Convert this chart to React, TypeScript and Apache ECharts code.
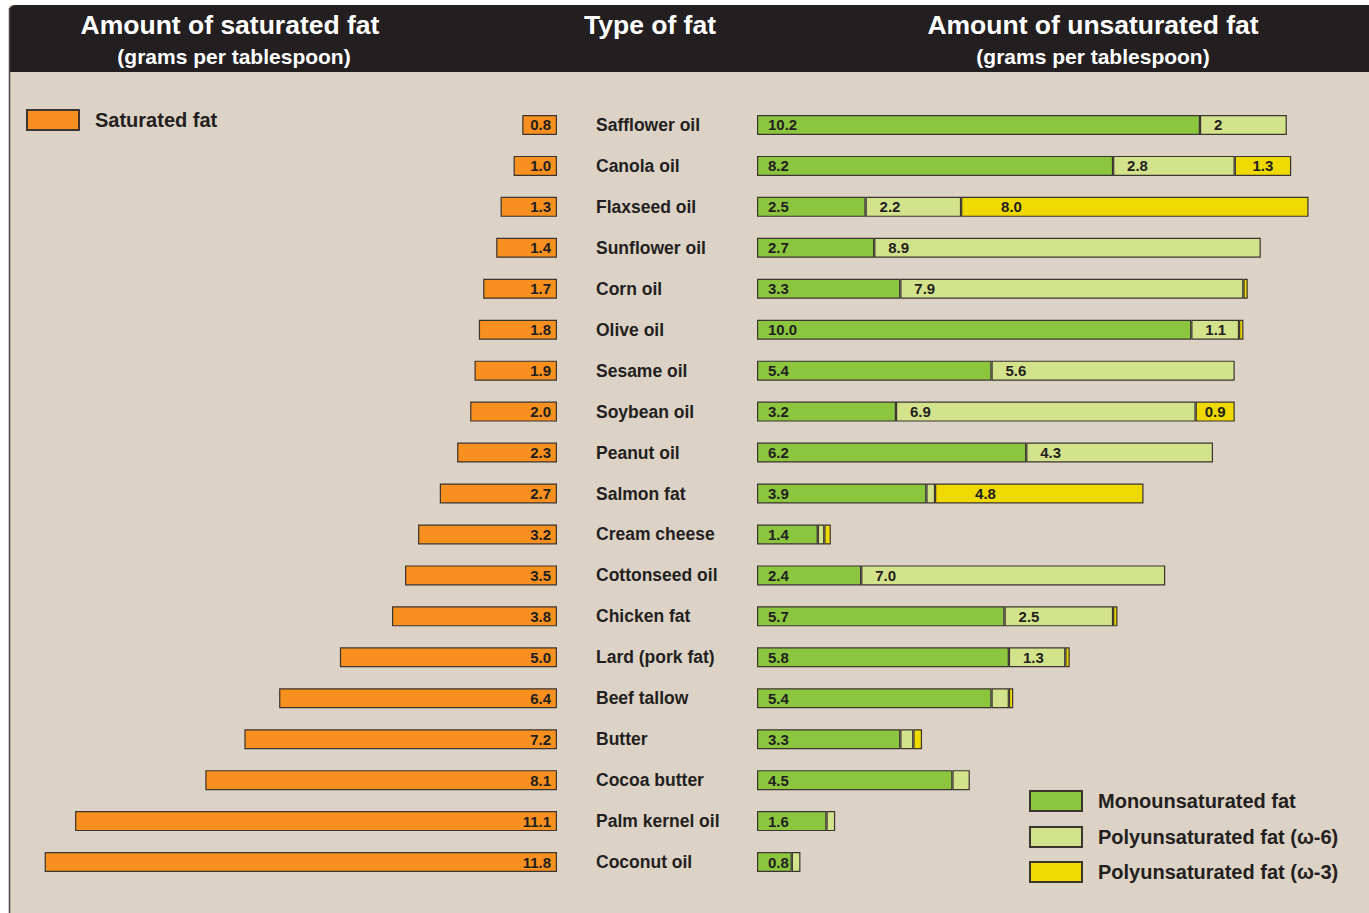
import React, { useEffect, useRef } from "react";
import * as echarts from "echarts";

const categories = [
  "Safflower oil", "Canola oil", "Flaxseed oil", "Sunflower oil", "Corn oil",
  "Olive oil", "Sesame oil", "Soybean oil", "Peanut oil", "Salmon fat",
  "Cream cheese", "Cottonseed oil", "Chicken fat", "Lard (pork fat)",
  "Beef tallow", "Butter", "Cocoa butter", "Palm kernel oil", "Coconut oil",
];
const saturated = [0.8, 1.0, 1.3, 1.4, 1.7, 1.8, 1.9, 2.0, 2.3, 2.7, 3.2, 3.5, 3.8, 5.0, 6.4, 7.2, 8.1, 11.1, 11.8];
const mono = [10.2, 8.2, 2.5, 2.7, 3.3, 10.0, 5.4, 3.2, 6.2, 3.9, 1.4, 2.4, 5.7, 5.8, 5.4, 3.3, 4.5, 1.6, 0.8];
const omega6 = [2, 2.8, 2.2, 8.9, 7.9, 1.1, 5.6, 6.9, 4.3, 0.2, 0.15, 7.0, 2.5, 1.3, 0.4, 0.3, 0.4, 0.2, 0.2];
const omega3 = [0, 1.3, 8.0, 0, 0.1, 0.1, 0, 0.9, 0, 4.8, 0.15, 0, 0.1, 0.1, 0.1, 0.2, 0, 0, 0];
// printed label texts for the omega-6 segments ("" = no label)
const omega6Labels = ["2", "2.8", "2.2", "8.9", "7.9", "1.1", "5.6", "6.9", "4.3", "", "", "7.0", "2.5", "1.3", "", "", "", "", ""];

const legendNames = ["Monounsaturated fat", "Polyunsaturated fat (ω-6)", "Polyunsaturated fat (ω-3)"];

const FONT = "Liberation Sans";
const DARK = "#231f20";
const BORDER = "#3b3431";

export default function App() {
  const ref = useRef<HTMLDivElement>(null);
  useEffect(() => {
    if (!ref.current) return;
    const chart = echarts.init(ref.current, undefined, { renderer: "svg" });
    const labelBase = {
      color: DARK,
      fontFamily: FONT,
      fontWeight: "bold" as const,
      fontSize: 15,
    };
    const fmtAll = (p: any) => Number(p.value).toFixed(1);
    const fmtBig = (p: any) => (p.value >= 0.9 ? Number(p.value).toFixed(1) : "");
    const fmt6 = (p: any) => omega6Labels[p.dataIndex] || "";
    const gridTop = 104.5;
    const gridHeight = 778;
    const legendText = { fontFamily: FONT, fontWeight: "bold", fontSize: 20, color: DARK, padding: [0, 0, 0, 11] };
    const legendTops = [790, 826, 861];
    chart.setOption({
      animation: false,
      backgroundColor: "#ffffff",
      textStyle: { fontFamily: FONT },
      graphic: [
        { type: "rect", shape: { x: 9, y: 5, width: 1360, height: 908 }, style: { fill: "#dcd2c6" }, z: -10 },
        { type: "rect", shape: { x: 9, y: 5, width: 1360, height: 67, r: [6, 0, 0, 0] }, style: { fill: DARK }, z: -5 },
        { type: "line", shape: { x1: 9.5, y1: 8, x2: 9.5, y2: 913 }, style: { stroke: "#4a4442", lineWidth: 1.5 }, z: -4 },
        { type: "text", x: 230, y: 25, style: { text: "Amount of saturated fat", fill: "#fff", font: `bold 26.5px "${FONT}"`, textAlign: "center", textVerticalAlign: "middle" } },
        { type: "text", x: 234, y: 56, style: { text: "(grams per tablespoon)", fill: "#fff", font: `bold 21px "${FONT}"`, textAlign: "center", textVerticalAlign: "middle" } },
        { type: "text", x: 650, y: 25, style: { text: "Type of fat", fill: "#fff", font: `bold 26.5px "${FONT}"`, textAlign: "center", textVerticalAlign: "middle" } },
        { type: "text", x: 1093, y: 25, style: { text: "Amount of unsaturated fat", fill: "#fff", font: `bold 26.5px "${FONT}"`, textAlign: "center", textVerticalAlign: "middle" } },
        { type: "text", x: 1093, y: 56, style: { text: "(grams per tablespoon)", fill: "#fff", font: `bold 21px "${FONT}"`, textAlign: "center", textVerticalAlign: "middle" } },
      ],
      legend: [
        {
          data: ["Saturated fat"],
          left: 26,
          top: 109,
          padding: 0,
          icon: "rect",
          itemWidth: 52,
          itemHeight: 20,
          selectedMode: false,
          textStyle: legendText,
        },
        ...legendNames.map((n, i) => ({
          data: [n],
          left: 1029,
          top: legendTops[i],
          padding: 0,
          icon: "rect",
          itemWidth: 52,
          itemHeight: 20,
          selectedMode: false,
          textStyle: legendText,
        })),
      ],
      grid: [
        { left: 36, width: 521, top: gridTop, height: gridHeight },
        { left: 757, width: 608, top: gridTop, height: gridHeight },
      ],
      xAxis: [
        { type: "value", gridIndex: 0, min: 0, max: 12, inverse: true, show: false },
        { type: "value", gridIndex: 1, min: 0, max: 14, show: false },
      ],
      yAxis: [
        { type: "category", gridIndex: 0, data: categories, inverse: true, show: false },
        {
          type: "category",
          gridIndex: 1,
          data: categories,
          inverse: true,
          axisLine: { show: false },
          axisTick: { show: false },
          axisLabel: {
            align: "left",
            margin: 161,
            fontFamily: FONT,
            fontWeight: "bold",
            fontSize: 17.5,
            color: DARK,
          },
        },
      ],
      series: [
        {
          name: "Saturated fat",
          type: "bar",
          xAxisIndex: 0,
          yAxisIndex: 0,
          data: saturated,
          barWidth: 20,
          itemStyle: { color: "#f7901e", borderColor: BORDER, borderWidth: 1.2 },
          label: { show: true, position: "insideRight", distance: 6, formatter: fmtAll, ...labelBase },
        },
        {
          name: legendNames[0],
          type: "bar",
          stack: "u",
          xAxisIndex: 1,
          yAxisIndex: 1,
          data: mono,
          barWidth: 20,
          itemStyle: { color: "#8cc63f", borderColor: BORDER, borderWidth: 1.2 },
          label: { show: true, position: "insideLeft", distance: 11, formatter: fmtAll, ...labelBase },
        },
        {
          name: legendNames[1],
          type: "bar",
          stack: "u",
          xAxisIndex: 1,
          yAxisIndex: 1,
          data: omega6.map((v) => (v === 0 ? null : v)),
          barWidth: 20,
          itemStyle: { color: "#d3e38b", borderColor: BORDER, borderWidth: 1.2 },
          label: { show: true, position: "insideLeft", distance: 14, formatter: fmt6, ...labelBase },
        },
        {
          name: legendNames[2],
          type: "bar",
          stack: "u",
          xAxisIndex: 1,
          yAxisIndex: 1,
          data: omega3.map((v) =>
            v === 0
              ? null
              : { value: v, label: v > 3 ? { position: "insideLeft", distance: 40 } : { position: "inside" } }
          ),
          barWidth: 20,
          itemStyle: { color: "#eed900", borderColor: BORDER, borderWidth: 1.2 },
          label: { show: true, formatter: fmtBig, ...labelBase },
        },
      ],
    });
    return () => chart.dispose();
  }, []);
  return (
    <div
      ref={ref}
      style={{ position: "fixed", left: 0, top: 0, width: 1369, height: 913 }}
    />
  );
}
